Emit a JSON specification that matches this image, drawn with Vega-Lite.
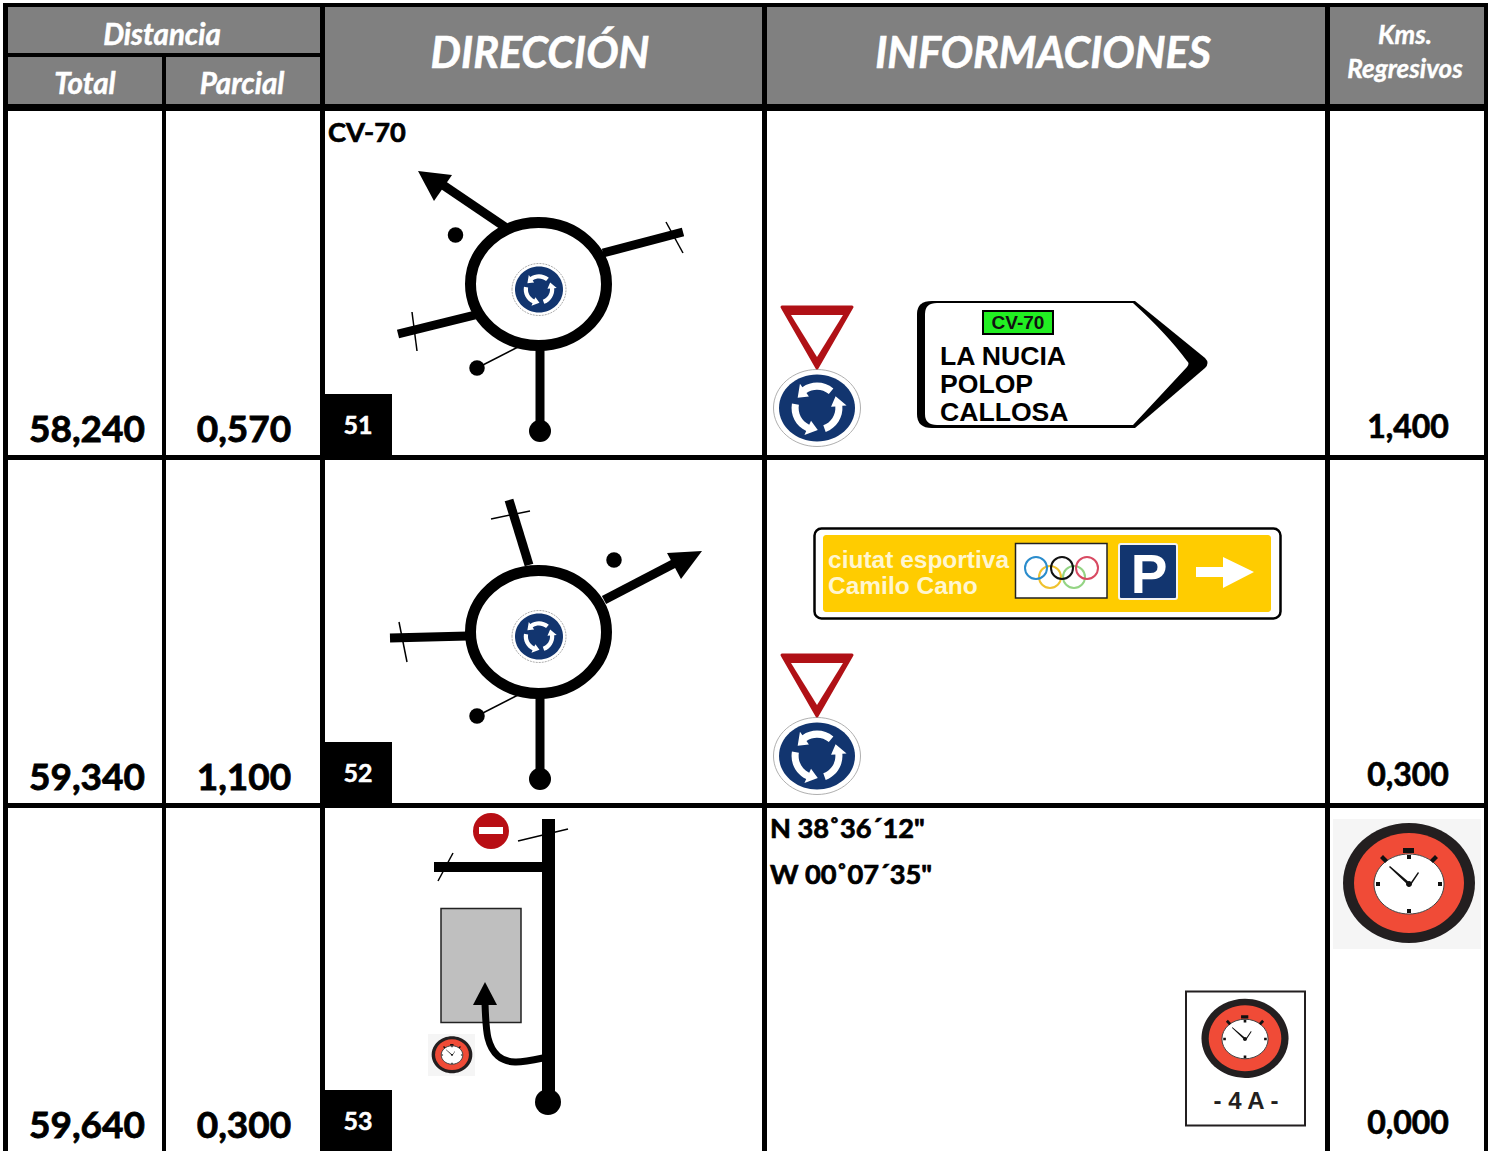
{"$schema":"https://vega.github.io/schema/vega-lite/v6.json","width":1494,"height":1151,"padding":0,"background":"white","autosize":{"type":"none"},"config":{"view":{"stroke":null}},"resolve":{"scale":{"size":"independent"}},"encoding":{"x":{"field":"x","type":"quantitative","scale":{"domain":[0,1494],"nice":false,"zero":false},"axis":null},"y":{"field":"y","type":"quantitative","scale":{"domain":[1151,0],"nice":false,"zero":false},"axis":null}},"layer":[
{"data":{"values":[{"x":3,"x2":1488,"y":3,"y2":1151}]},"mark":{"type":"rect","fill":"#000000"},"encoding":{"x2":{"field":"x2"},"y2":{"field":"y2"}}},
{"data":{"values":[{"x":8,"x2":320,"y":7,"y2":53},{"x":8,"x2":162,"y":57,"y2":104},{"x":166,"x2":320,"y":57,"y2":104},{"x":325,"x2":762,"y":7,"y2":104},{"x":767,"x2":1325,"y":7,"y2":104},{"x":1330,"x2":1484,"y":7,"y2":104}]},"mark":{"type":"rect","fill":"#808080"},"encoding":{"x2":{"field":"x2"},"y2":{"field":"y2"}}},
{"data":{"values":[{"x":8,"x2":162,"y":111,"y2":455},{"x":166,"x2":320,"y":111,"y2":455},{"x":325,"x2":762,"y":111,"y2":455},{"x":767,"x2":1325,"y":111,"y2":455},{"x":1330,"x2":1484,"y":111,"y2":455},{"x":8,"x2":162,"y":460,"y2":803},{"x":166,"x2":320,"y":460,"y2":803},{"x":325,"x2":762,"y":460,"y2":803},{"x":767,"x2":1325,"y":460,"y2":803},{"x":1330,"x2":1484,"y":460,"y2":803},{"x":8,"x2":162,"y":808,"y2":1151},{"x":166,"x2":320,"y":808,"y2":1151},{"x":325,"x2":762,"y":808,"y2":1151},{"x":767,"x2":1325,"y":808,"y2":1151},{"x":1330,"x2":1484,"y":808,"y2":1151}]},"mark":{"type":"rect","fill":"#ffffff"},"encoding":{"x2":{"field":"x2"},"y2":{"field":"y2"}}},
{"data":{"values":[{"x":325,"x2":392,"y":394,"y2":455},{"x":325,"x2":392,"y":742,"y2":803},{"x":325,"x2":392,"y":1090,"y2":1151}]},"mark":{"type":"rect","fill":"#000000"},"encoding":{"x2":{"field":"x2"},"y2":{"field":"y2"}}},

{"data":{"values":[{"x":505,"y":227,"x2":443,"y2":185},{"x":603,"y":253,"x2":683,"y2":232},{"x":475,"y":315,"x2":398,"y2":334},{"x":540,"y":345,"x2":540,"y2":430},{"x":604,"y":600,"x2":675,"y2":563},{"x":529,"y":565,"x2":509,"y2":500},{"x":468,"y":636,"x2":390,"y2":638},{"x":540,"y":695,"x2":540,"y2":778}]},"mark":{"type":"rule","stroke":"#000000","strokeWidth":9},"encoding":{"x2":{"field":"x2"},"y2":{"field":"y2"}}},
{"data":{"values":[{"x":666,"y":222,"x2":683,"y2":253},{"x":412,"y":312,"x2":417,"y2":351},{"x":477,"y":368,"x2":518,"y2":347},{"x":491,"y":519,"x2":530,"y2":511},{"x":399,"y":622,"x2":407,"y2":662},{"x":477,"y":716,"x2":520,"y2":694},{"x":518,"y":841,"x2":568,"y2":829},{"x":438,"y":881,"x2":453,"y2":853}]},"mark":{"type":"rule","stroke":"#000000","strokeWidth":1.5},"encoding":{"x2":{"field":"x2"},"y2":{"field":"y2"}}},
{"data":{"values":[{"x":418,"y":171}]},"mark":{"type":"point","shape":"M0,0L34,4L16,30Z","size":4,"filled":true,"fill":"#000000","opacity":1}},
{"data":{"values":[{"x":702,"y":551}]},"mark":{"type":"point","shape":"M0,0L-35,2L-21,28Z","size":4,"filled":true,"fill":"#000000","opacity":1}},
{"data":{"values":[{"x":538.5,"y":284},{"x":538.5,"y":632}]},"mark":{"type":"point","shape":"M-68,0A68,61.5 0 1 1 68,0A68,61.5 0 1 1 -68,0Z","size":4,"filled":true,"fill":"#ffffff","stroke":"#000000","strokeWidth":11,"opacity":1}},
{"data":{"values":[{"x":455.5,"y":235},{"x":477,"y":368},{"x":614,"y":560},{"x":477,"y":716}]},"mark":{"type":"circle","size":240,"color":"#000000","opacity":1}},
{"data":{"values":[{"x":540,"y":431},{"x":540,"y":779}]},"mark":{"type":"circle","size":484,"color":"#000000","opacity":1}},

{"data":{"values":[{"x":539,"y":289.5},{"x":539,"y":636.5}]},"mark":{"type":"point","shape":"M-27,0A27,26 0 1 1 27,0A27,26 0 1 1 -27,0Z","size":4,"filled":true,"fill":"#ffffff","stroke":"#8a8a8a","strokeWidth":0.7,"strokeDash":[2,1],"opacity":1}},
{"data":{"values":[{"x":539,"y":289.5},{"x":539,"y":636.5}]},"mark":{"type":"point","shape":"M-24,0A24,23 0 1 1 24,0A24,23 0 1 1 -24,0Z","size":4,"filled":true,"fill":"#12356f","opacity":1}},
{"data":{"values":[{"x":817,"y":408},{"x":817,"y":756}]},"mark":{"type":"point","shape":"M-43.5,0A43.5,38.5 0 1 1 43.5,0A43.5,38.5 0 1 1 -43.5,0Z","size":4,"filled":true,"fill":"#ffffff","stroke":"#9a9a9a","strokeWidth":0.8,"opacity":1}},
{"data":{"values":[{"x":817,"y":408},{"x":817,"y":756}]},"mark":{"type":"point","shape":"M-38,0A38,33.5 0 1 1 38,0A38,33.5 0 1 1 -38,0Z","size":4,"filled":true,"fill":"#12356f","opacity":1}},
{"data":{"values":[{"x":539,"y":289.5,"k":"S"},{"x":539,"y":636.5,"k":"S"},{"x":817,"y":408,"k":"L"},{"x":817,"y":756,"k":"L"}]},"mark":{"type":"point","shape":"M0.463,-0.552A0.72,0.72 0 0 0 -0.413,-0.59L-0.482,-0.688L-0.547,-0.291L-0.229,-0.328L-0.298,-0.426A0.52,0.52 0 0 1 0.334,-0.398ZM-0.709,-0.125A0.72,0.72 0 0 0 -0.305,0.652L-0.355,0.761L0.022,0.619L-0.169,0.362L-0.22,0.471A0.52,0.52 0 0 1 -0.512,-0.09ZM0.246,0.677A0.72,0.72 0 0 0 0.717,-0.063L0.837,-0.073L0.526,-0.329L0.398,-0.035L0.518,-0.045A0.52,0.52 0 0 1 0.178,0.489Z","filled":true,"fill":"#ffffff","opacity":1},"encoding":{"size":{"field":"k","type":"ordinal","scale":{"type":"ordinal","domain":["S","L"],"range":[1800,5000]},"legend":null}}},

{"data":{"values":[{"x":817,"y":338},{"x":817,"y":686}]},"mark":{"type":"point","shape":"M-35,-31L35,-31L0,30Z","size":4,"filled":true,"fill":"#b01116","stroke":"#b01116","strokeWidth":3,"strokeJoin":"round","opacity":1}},
{"data":{"values":[{"x":817,"y":338},{"x":817,"y":686}]},"mark":{"type":"point","shape":"M-26,-23L26,-23L0,19Z","size":4,"filled":true,"fill":"#ffffff","opacity":1}},

{"data":{"values":[{"x":1062,"y":364}]},"mark":{"type":"point","shape":"M-130,-63L73,-63L143,-6Q148,-1 143,4L73,64L-130,64Q-145,64 -145,50L-145,-50Q-145,-63 -130,-63Z","size":4,"filled":true,"fill":"#000000","opacity":1}},
{"data":{"values":[{"x":1062,"y":364}]},"mark":{"type":"point","shape":"M-125,-61L71,-61Q105,-30 125,-3Q128,-1 125,3L71,61L-125,61Q-137,61 -137,50L-137,-50Q-137,-61 -125,-61Z","size":4,"filled":true,"fill":"#ffffff","opacity":1}},
{"data":{"values":[{"x":983,"x2":1053,"y":311,"y2":334}]},"mark":{"type":"rect","fill":"#22ee22","stroke":"#000000","strokeWidth":2},"encoding":{"x2":{"field":"x2"},"y2":{"field":"y2"}}},
{"data":{"values":[{"x":1018,"y":329,"t":"CV-70"}]},"mark":{"type":"text","font":"Liberation Sans","fontWeight":"bold","fontSize":19,"align":"center","baseline":"alphabetic","fill":"#111111"},"encoding":{"text":{"field":"t"}}},
{"data":{"values":[{"x":940,"y":365,"t":"LA NUCIA"},{"x":940,"y":393,"t":"POLOP"},{"x":940,"y":421,"t":"CALLOSA"}]},"mark":{"type":"text","font":"Liberation Sans","fontWeight":"bold","fontSize":26.6,"align":"left","baseline":"alphabetic","fill":"#000000"},"encoding":{"text":{"field":"t"}}},

{"data":{"values":[{"x":814.5,"x2":1280.5,"y":528.5,"y2":618.5}]},"mark":{"type":"rect","fill":"#ffffff","stroke":"#000000","strokeWidth":2.5,"cornerRadius":7},"encoding":{"x2":{"field":"x2"},"y2":{"field":"y2"}}},
{"data":{"values":[{"x":823,"x2":1271,"y":535,"y2":612}]},"mark":{"type":"rect","fill":"#ffcc00","cornerRadius":3},"encoding":{"x2":{"field":"x2"},"y2":{"field":"y2"}}},
{"data":{"values":[{"x":828,"y":568,"t":"ciutat esportiva"},{"x":828,"y":594,"t":"Camilo Cano"}]},"mark":{"type":"text","font":"Liberation Sans","fontWeight":"bold","fontSize":24.5,"align":"left","baseline":"alphabetic","fill":"#fff6d0"},"encoding":{"text":{"field":"t"}}},
{"data":{"values":[{"x":1015.5,"x2":1107,"y":543.5,"y2":598}]},"mark":{"type":"rect","fill":"#ffffff","stroke":"#222222","strokeWidth":1.5},"encoding":{"x2":{"field":"x2"},"y2":{"field":"y2"}}},
{"data":{"values":[{"x":1050,"y":577}]},"mark":{"type":"point","shape":"circle","size":484,"filled":false,"stroke":"#efc22f","strokeWidth":2,"opacity":1}},
{"data":{"values":[{"x":1074,"y":577}]},"mark":{"type":"point","shape":"circle","size":484,"filled":false,"stroke":"#94d484","strokeWidth":2,"opacity":1}},
{"data":{"values":[{"x":1036,"y":568}]},"mark":{"type":"point","shape":"circle","size":484,"filled":false,"stroke":"#2a8ccc","strokeWidth":2,"opacity":1}},
{"data":{"values":[{"x":1062,"y":568}]},"mark":{"type":"point","shape":"circle","size":484,"filled":false,"stroke":"#111111","strokeWidth":2,"opacity":1}},
{"data":{"values":[{"x":1087,"y":568}]},"mark":{"type":"point","shape":"circle","size":484,"filled":false,"stroke":"#d84a62","strokeWidth":2,"opacity":1}},
{"data":{"values":[{"x":1119,"x2":1177,"y":544,"y2":599}]},"mark":{"type":"rect","fill":"#12356f","stroke":"#f2f2f2","strokeWidth":2,"cornerRadius":2},"encoding":{"x2":{"field":"x2"},"y2":{"field":"y2"}}},
{"data":{"values":[{"x":1149,"y":593,"t":"P"}]},"mark":{"type":"text","font":"Liberation Sans","fontWeight":"bold","fontSize":55,"align":"center","baseline":"alphabetic","fill":"#ffffff"},"encoding":{"text":{"field":"t"}}},
{"data":{"values":[{"x":1196,"y":572}]},"mark":{"type":"point","shape":"M0,-5L27,-5L27,-15L58,0L27,16L27,5L0,5Z","size":4,"filled":true,"fill":"#ffffff","opacity":1}},

{"data":{"values":[{"x":491,"y":831}]},"mark":{"type":"circle","size":1296,"color":"#b80e14","opacity":1}},
{"data":{"values":[{"x":479,"x2":503,"y":827,"y2":834}]},"mark":{"type":"rect","fill":"#ffffff"},"encoding":{"x2":{"field":"x2"},"y2":{"field":"y2"}}},
{"data":{"values":[{"x":441,"x2":521,"y":908.5,"y2":1022.5}]},"mark":{"type":"rect","fill":"#bfbfbf","stroke":"#222222","strokeWidth":1.5},"encoding":{"x2":{"field":"x2"},"y2":{"field":"y2"}}},
{"data":{"values":[{"x":542,"x2":555,"y":819,"y2":1100},{"x":434,"x2":542,"y":862,"y2":872}]},"mark":{"type":"rect","fill":"#000000"},"encoding":{"x2":{"field":"x2"},"y2":{"field":"y2"}}},
{"data":{"values":[{"x":548,"y":1102}]},"mark":{"type":"circle","size":676,"color":"#000000","opacity":1}},
{"data":{"values":[{"x":543,"y":1058,"o":1},{"x":515,"y":1062,"o":2},{"x":498,"y":1056,"o":3},{"x":488,"y":1038,"o":4},{"x":485,"y":1003,"o":5}]},"mark":{"type":"line","stroke":"#000000","strokeWidth":7,"interpolate":"cardinal"},"encoding":{"order":{"field":"o","type":"quantitative"}}},
{"data":{"values":[{"x":485,"y":982}]},"mark":{"type":"point","shape":"M0,0L12,23L-12,23Z","size":4,"filled":true,"fill":"#000000","opacity":1}},

{"data":{"values":[{"x":1186,"x2":1305,"y":991.5,"y2":1125.5}]},"mark":{"type":"rect","fill":"#ffffff","stroke":"#231f20","strokeWidth":2},"encoding":{"x2":{"field":"x2"},"y2":{"field":"y2"}}},
{"data":{"values":[{"x":1333,"x2":1481,"y":819,"y2":949},{"x":428,"x2":475,"y":1034,"y2":1076}]},"mark":{"type":"rect","fill":"#f5f5f5"},"encoding":{"x2":{"field":"x2"},"y2":{"field":"y2"}}},
{"data":{"values":[{"x":1409,"y":884,"k":"L"},{"x":1245,"y":1039,"k":"M"},{"x":452,"y":1055,"k":"S"}]},"mark":{"type":"point","shape":"M-66,-1A66,60 0 1 1 66,-1A66,60 0 1 1 -66,-1Z","filled":true,"fill":"#231f20","opacity":1},"encoding":{"size":{"field":"k","type":"ordinal","scale":{"type":"ordinal","domain":["L","M","S"],"range":[4,1.74,0.38]},"legend":null}}},
{"data":{"values":[{"x":1409,"y":884,"k":"L"},{"x":1245,"y":1039,"k":"M"},{"x":452,"y":1055,"k":"S"}]},"mark":{"type":"point","shape":"M-55,-1A55,50 0 1 1 55,-1A55,50 0 1 1 -55,-1Z","filled":true,"fill":"#f04b37","opacity":1},"encoding":{"size":{"field":"k","type":"ordinal","scale":{"type":"ordinal","domain":["L","M","S"],"range":[4,1.74,0.38]},"legend":null}}},
{"data":{"values":[{"x":1409,"y":884,"k":"L"},{"x":1245,"y":1039,"k":"M"},{"x":452,"y":1055,"k":"S"}]},"mark":{"type":"point","shape":"M-35,0A35,30 0 1 1 35,0A35,30 0 1 1 -35,0Z","filled":true,"fill":"#ffffff","stroke":"#444444","strokeWidth":1,"opacity":1},"encoding":{"size":{"field":"k","type":"ordinal","scale":{"type":"ordinal","domain":["L","M","S"],"range":[4,1.74,0.38]},"legend":null}}},
{"data":{"values":[{"x":1409,"y":884,"k":"L"},{"x":1245,"y":1039,"k":"M"},{"x":452,"y":1055,"k":"S"}]},"mark":{"type":"point","shape":"M-6,-36L5,-36L5,-31L-6,-31ZM-29,-26L-26,-29L-21,-24L-24,-21ZM26,-29L29,-26L24,-21L21,-24ZM-2,-29L2,-29L2,-25L-2,-25ZM-2,25L2,25L2,29L-2,29ZM-33,-2L-29,-2L-29,2L-33,2ZM29,-2L33,-2L33,2L29,2ZM-1,1L-20,-17L-19,-18L1,-1ZM0,1L9,-12L10,-11L2,1ZM-3,0A3,3 0 1 1 3,0A3,3 0 1 1 -3,0Z","filled":true,"fill":"#111111","opacity":1},"encoding":{"size":{"field":"k","type":"ordinal","scale":{"type":"ordinal","domain":["L","M","S"],"range":[4,1.74,0.38]},"legend":null}}},

{"data":{"values":[{"x":1246,"y":1109,"t":"- 4 A -"}]},"mark":{"type":"text","font":"Liberation Sans","fontWeight":"bold","fontSize":24,"align":"center","baseline":"alphabetic","fill":"#231f20"},"encoding":{"text":{"field":"t"}}},

{"data":{"values":[{"x":162,"y":45,"t":"Distancia"},{"x":85,"y":94,"t":"Total"},{"x":242,"y":94,"t":"Parcial"}]},"mark":{"type":"text","font":"Lato","fontWeight":"bold","fontStyle":"italic","fontSize":29.5,"align":"center","baseline":"alphabetic","fill":"#ffffff","stroke":"#ffffff","strokeWidth":0.5},"encoding":{"text":{"field":"t"}}},
{"data":{"values":[{"x":540,"y":68,"t":"DIRECCIÓN"},{"x":1043,"y":68,"t":"INFORMACIONES"}]},"mark":{"type":"text","font":"Lato","fontWeight":"bold","fontStyle":"italic","fontSize":43,"align":"center","baseline":"alphabetic","fill":"#ffffff","stroke":"#ffffff","strokeWidth":0.6},"encoding":{"text":{"field":"t"}}},
{"data":{"values":[{"x":1405,"y":44,"t":"Kms."},{"x":1405,"y":78,"t":"Regresivos"}]},"mark":{"type":"text","font":"Lato","fontWeight":"bold","fontStyle":"italic","fontSize":26,"align":"center","baseline":"alphabetic","fill":"#ffffff","stroke":"#ffffff","strokeWidth":0.4},"encoding":{"text":{"field":"t"}}},
{"data":{"values":[{"x":87,"y":442,"t":"58,240"},{"x":87,"y":790,"t":"59,340"},{"x":87,"y":1138,"t":"59,640"},{"x":244,"y":442,"t":"0,570"},{"x":244,"y":790,"t":"1,100"},{"x":244,"y":1138,"t":"0,300"}]},"mark":{"type":"text","font":"Lato","fontWeight":"bold","fontSize":37,"align":"center","baseline":"alphabetic","fill":"#000000","stroke":"#000000","strokeWidth":0.8},"encoding":{"text":{"field":"t"}}},
{"data":{"values":[{"x":1408,"y":438,"t":"1,400"},{"x":1408,"y":786,"t":"0,300"},{"x":1408,"y":1134,"t":"0,000"}]},"mark":{"type":"text","font":"Lato","fontWeight":"bold","fontSize":32,"align":"center","baseline":"alphabetic","fill":"#000000","stroke":"#000000","strokeWidth":0.7},"encoding":{"text":{"field":"t"}}},
{"data":{"values":[{"x":358,"y":434,"t":"51"},{"x":358,"y":782,"t":"52"},{"x":358,"y":1130,"t":"53"}]},"mark":{"type":"text","font":"Lato","fontWeight":"bold","fontSize":25,"align":"center","baseline":"alphabetic","fill":"#ffffff","stroke":"#ffffff","strokeWidth":0.5},"encoding":{"text":{"field":"t"}}},
{"data":{"values":[{"x":328,"y":142,"t":"CV-70"},{"x":770,"y":838,"t":"N 38˚36´12\""},{"x":770,"y":884,"t":"W 00˚07´35\""}]},"mark":{"type":"text","font":"Lato","fontWeight":"bold","fontSize":27.2,"align":"left","baseline":"alphabetic","fill":"#000000","stroke":"#000000","strokeWidth":0.7},"encoding":{"text":{"field":"t"}}}
]}
